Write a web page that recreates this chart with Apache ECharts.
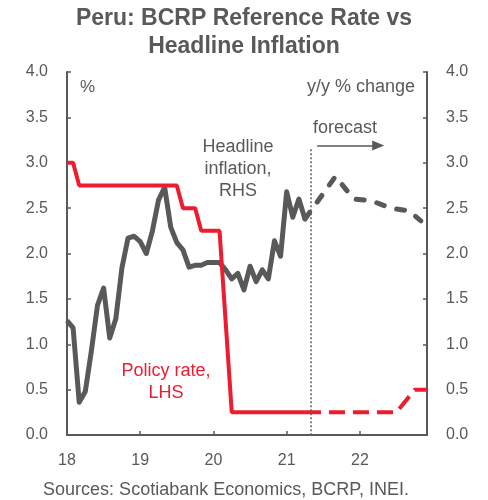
<!DOCTYPE html>
<html>
<head>
<meta charset="utf-8">
<script src="https://cdn.jsdelivr.net/npm/echarts@6/dist/echarts.min.js"></script>
<style>
  html, body { margin: 0; padding: 0; background: #fff; }
  #chart { width: 488px; height: 500px; }
</style>
</head>
<body>
<div id="chart"></div>
<script>
// monthly categories Jan 2018 .. Dec 2022
const months = [];
for (let y = 2018; y <= 2022; y++) {
  for (let m = 1; m <= 12; m++) months.push(y + '-' + (m < 10 ? '0' + m : m));
}
const yearTicks = ['18', '19', '20', '21', '22'];
const axisTicks = ['0.0', '0.5', '1.0', '1.5', '2.0', '2.5', '3.0', '3.5', '4.0'];

// headline inflation, y/y %, actual (Jan 2018 - Apr 2021)
const inflationActual = [
  1.26, 1.18, 0.36, 0.48, 0.93, 1.43, 1.62, 1.07, 1.28, 1.84, 2.17, 2.19,
  2.13, 2.00, 2.25, 2.59, 2.73, 2.29, 2.12, 2.04, 1.85, 1.87, 1.87, 1.90,
  1.90, 1.90, 1.82, 1.72, 1.78, 1.60, 1.86, 1.69, 1.82, 1.72, 2.14, 1.97,
  2.68, 2.40, 2.60, 2.38
];
// forecast points (month index -> value)
const inflationForecastPts = [[39, 2.38], [44, 2.85], [47, 2.60], [50, 2.58], [53, 2.50], [56, 2.47], [58, 2.36]];

// policy rate, %, actual (Jan 2018 - Apr 2021)
const policyActual = [
  3.00, 3.00, 2.75, 2.75, 2.75, 2.75, 2.75, 2.75, 2.75, 2.75, 2.75, 2.75,
  2.75, 2.75, 2.75, 2.75, 2.75, 2.75, 2.75, 2.50, 2.50, 2.50, 2.25, 2.25,
  2.25, 2.25, 1.25, 0.25, 0.25, 0.25, 0.25, 0.25, 0.25, 0.25, 0.25, 0.25,
  0.25, 0.25, 0.25, 0.25
];
const policyForecastPts = [[39, 0.25], [54, 0.25], [57, 0.50], [59, 0.50]];

const forecastStart = 40;

const RED = '#ED1C2E';
const GREY = '#595959';
const FONT = 'Liberation Sans, Arial, sans-serif';

function toSeries(pts) {
  const arr = months.map(() => null);
  pts.forEach(p => { arr[p[0]] = p[1]; });
  return arr;
}

const myChart = echarts.init(document.getElementById('chart'));

const yAxisBase = {
  type: 'value',
  min: 0,
  max: 4,
  interval: 0.5,
  splitLine: {show: false},
  axisLine: {show: true, lineStyle: {color: GREY, width: 2}},
  axisTick: {show: true, inside: true, length: 4, lineStyle: {color: GREY, width: 1.5}},
  axisLabel: {
    color: GREY, fontSize: 16, fontFamily: FONT, margin: 19,
    formatter: v => axisTicks[Math.round(v * 2)]
  }
};

const option = {
  animation: false,
  title: {
    text: 'Peru: BCRP Reference Rate vs\nHeadline Inflation',
    left: 'center',
    top: 0,
    textStyle: {color: GREY, fontSize: 23, fontWeight: 'bold', fontFamily: FONT, lineHeight: 28}
  },
  grid: {left: 67, right: 61, top: 72, bottom: 65},
  xAxis: {
    type: 'category',
    data: months,
    boundaryGap: false,
    axisLine: {lineStyle: {color: GREY, width: 2}},
    axisTick: {
      inside: true, length: 4, lineStyle: {color: GREY, width: 1.5},
      interval: i => i % 12 === 0
    },
    axisLabel: {
      color: GREY, fontSize: 16, fontFamily: FONT, margin: 18,
      interval: i => i % 12 === 0,
      formatter: (v, i) => yearTicks[i / 12]
    }
  },
  yAxis: [
    Object.assign({}, yAxisBase, {position: 'left'}),
    Object.assign({}, yAxisBase, {position: 'right'})
  ],
  series: [
    {
      name: 'Headline inflation',
      type: 'line',
      yAxisIndex: 1,
      symbol: 'none',
      data: inflationActual,
      lineStyle: {color: GREY, width: 5, join: 'round'},
      z: 3
    },
    {
      name: 'Headline inflation forecast',
      type: 'line',
      yAxisIndex: 1,
      symbol: 'none',
      connectNulls: true,
      data: toSeries(inflationForecastPts),
      lineStyle: {color: GREY, width: 5, type: [8, 13], cap: 'round'},
      z: 3,
      markLine: {
        silent: true,
        symbol: 'none',
        label: {show: false},
        lineStyle: {color: GREY, type: [2, 2], width: 1.5},
        data: [[{coord: [forecastStart, 3.15]}, {coord: [forecastStart, 0]}]]
      }
    },
    {
      name: 'Policy rate',
      type: 'line',
      yAxisIndex: 0,
      symbol: 'none',
      data: policyActual,
      lineStyle: {color: RED, width: 4},
      z: 4
    },
    {
      name: 'Policy rate forecast',
      type: 'line',
      yAxisIndex: 0,
      symbol: 'none',
      connectNulls: true,
      data: toSeries(policyForecastPts),
      lineStyle: {color: RED, width: 4, type: [16, 8]},
      z: 4,
      markLine: {
        silent: true,
        symbol: ['none', 'triangle'],
        symbolSize: [10, 12],
        label: {show: false},
        lineStyle: {color: GREY, type: 'solid', width: 1.5},
        data: [[{coord: [forecastStart + 0.6, 3.19]}, {coord: [forecastStart + 11.0, 3.19]}]]
      }
    }
  ],
  graphic: [
    {type: 'text', style: {text: '%', x: 80, y: 87, textVerticalAlign: 'middle', font: '17px ' + FONT, fill: GREY}},
    {type: 'text', style: {text: 'y/y % change', x: 415, y: 87, textAlign: 'right', textVerticalAlign: 'middle', font: '18px ' + FONT, fill: GREY}},
    {type: 'text', style: {text: 'Headline\ninflation,\nRHS', x: 238, y: 169, textAlign: 'center', textVerticalAlign: 'middle', lineHeight: 22, font: '18px ' + FONT, fill: GREY}},
    {type: 'text', style: {text: 'forecast', x: 313, y: 128, textVerticalAlign: 'middle', font: '18px ' + FONT, fill: GREY}},
    {type: 'text', style: {text: 'Policy rate,\nLHS', x: 166, y: 382, textAlign: 'center', textVerticalAlign: 'middle', lineHeight: 22, font: '18px ' + FONT, fill: RED}},
    {type: 'text', style: {text: 'Sources: Scotiabank Economics, BCRP, INEI.', x: 226, y: 490, textAlign: 'center', textVerticalAlign: 'middle', font: '18px ' + FONT, fill: GREY}}
  ]
};

myChart.setOption(option);
</script>
</body>
</html>
